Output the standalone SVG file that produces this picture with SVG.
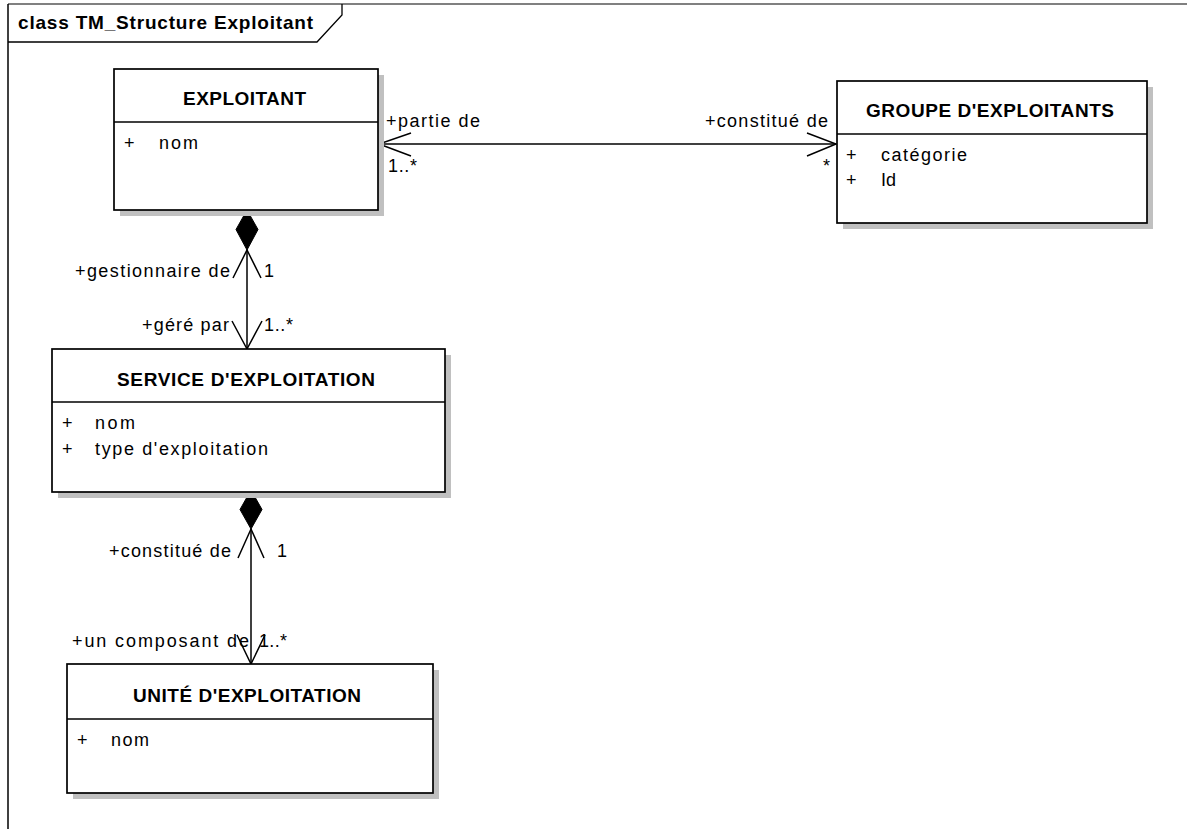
<svg xmlns="http://www.w3.org/2000/svg" width="1187" height="829" viewBox="0 0 1187 829">
  <style>
    text { font-family: "Liberation Sans", Arial, sans-serif; font-size: 18px; fill: #000; }
    .b { font-weight: bold; font-size: 19px; }
    .shadow { fill: #c0c0c0; stroke: none; }
    .box { fill: #fff; stroke: #000; stroke-width: 1.7; }
    .sep { stroke: #000; stroke-width: 1.7; }
    .conn { fill: none; stroke: #000; stroke-width: 1.5; }
    .diamond { fill: #000; stroke: #000; stroke-width: 1; }
  </style>
  <rect width="1187" height="829" fill="#fff"/>

  <!-- diagram frame with title tab -->
  <g id="frame">
    <line x1="8" y1="4" x2="1187" y2="4" stroke="#808080" stroke-width="2"/>
    <line x1="8" y1="4" x2="8" y2="829" stroke="#000" stroke-width="1.5"/>
    <polyline points="8,42 317,42 342,15 342,4" fill="none" stroke="#000" stroke-width="1.3"/>
    <text class="b" x="18" y="29" textLength="295" lengthAdjust="spacing">class TM_Structure Exploitant</text>
  </g>

  <g id="connectors">
    <!-- EXPLOITANT <-> GROUPE D'EXPLOITANTS -->
    <g id="assoc-groupe">
      <line class="conn" x1="379" y1="144" x2="836" y2="144"/>
      <polyline class="conn" points="411,133 379,144 411,156"/>
      <polyline class="conn" points="807,133 836,144 807,156"/>
      <text x="386" y="127" textLength="94" lengthAdjust="spacing">+partie de</text>
      <text x="705" y="127" textLength="123" lengthAdjust="spacing">+constitué de</text>
      <text x="388" y="172" textLength="29" lengthAdjust="spacing">1..*</text>
      <text x="823" y="172">*</text>
    </g>
    <!-- EXPLOITANT composition of SERVICE D'EXPLOITATION -->
    <g id="compo-service">
      <polygon class="diamond" points="247,210 258,229.5 247,250 236,229.5"/>
      <line class="conn" x1="247" y1="250" x2="247" y2="349"/>
      <polyline class="conn" points="233,278 247,250 261,278"/>
      <polyline class="conn" points="232,321 247,349 262,321"/>
      <text x="75" y="277" textLength="155" lengthAdjust="spacing">+gestionnaire de</text>
      <text x="264" y="277">1</text>
      <text x="142" y="331" textLength="87" lengthAdjust="spacing">+géré par</text>
      <text x="264" y="331" textLength="29" lengthAdjust="spacing">1..*</text>
    </g>
    <!-- SERVICE D'EXPLOITATION composition of UNITÉ D'EXPLOITATION -->
    <g id="compo-unite">
      <polygon class="diamond" points="251,490 262,509.5 251,529 240,509.5"/>
      <line class="conn" x1="251" y1="529" x2="251" y2="664"/>
      <polyline class="conn" points="238,558 251,529 264,558"/>
      <polyline class="conn" points="237,635 251,664 265,635"/>
      <text x="109" y="557" textLength="122" lengthAdjust="spacing">+constitué de</text>
      <text x="277" y="557">1</text>
      <text x="72" y="647" textLength="177" lengthAdjust="spacing">+un composant de</text>
      <text x="259" y="647" textLength="28" lengthAdjust="spacing">1..*</text>
    </g>
  </g>

  <g id="exploitant">
    <rect class="shadow" x="120" y="75" width="264" height="141"/>
    <rect class="box" x="114" y="69" width="264" height="141"/>
    <line class="sep" x1="114" y1="122" x2="378" y2="122"/>
    <text class="b" x="183" y="105" textLength="123" lengthAdjust="spacing">EXPLOITANT</text>
    <text x="124" y="149">+</text>
    <text x="159" y="149" textLength="39" lengthAdjust="spacing">nom</text>
  </g>

  <g id="groupe-exploitants">
    <rect class="shadow" x="843" y="87" width="310" height="142"/>
    <rect class="box" x="837" y="81" width="310" height="142"/>
    <line class="sep" x1="837" y1="134" x2="1147" y2="134"/>
    <text class="b" x="866" y="117" textLength="248" lengthAdjust="spacing">GROUPE D'EXPLOITANTS</text>
    <text x="846" y="161">+</text>
    <text x="881" y="161" textLength="86" lengthAdjust="spacing">catégorie</text>
    <text x="846" y="186">+</text>
    <text x="881" y="186" textLength="15" lengthAdjust="spacing">Id</text>
  </g>

  <g id="service-exploitation">
    <rect class="shadow" x="58" y="355" width="393" height="143"/>
    <rect class="box" x="52" y="349" width="393" height="143"/>
    <line class="sep" x1="52" y1="402" x2="445" y2="402"/>
    <text class="b" x="117" y="386" textLength="258" lengthAdjust="spacing">SERVICE D'EXPLOITATION</text>
    <text x="62" y="429">+</text>
    <text x="95" y="429" textLength="40" lengthAdjust="spacing">nom</text>
    <text x="62" y="455">+</text>
    <text x="95" y="455" textLength="173" lengthAdjust="spacing">type d'exploitation</text>
  </g>

  <g id="unite-exploitation">
    <rect class="shadow" x="73" y="670" width="366" height="129"/>
    <rect class="box" x="67" y="664" width="366" height="129"/>
    <line class="sep" x1="67" y1="719" x2="433" y2="719"/>
    <text class="b" x="133" y="702" textLength="228" lengthAdjust="spacing">UNITÉ D'EXPLOITATION</text>
    <text x="77" y="746">+</text>
    <text x="111" y="746" textLength="38" lengthAdjust="spacing">nom</text>
  </g>
</svg>
